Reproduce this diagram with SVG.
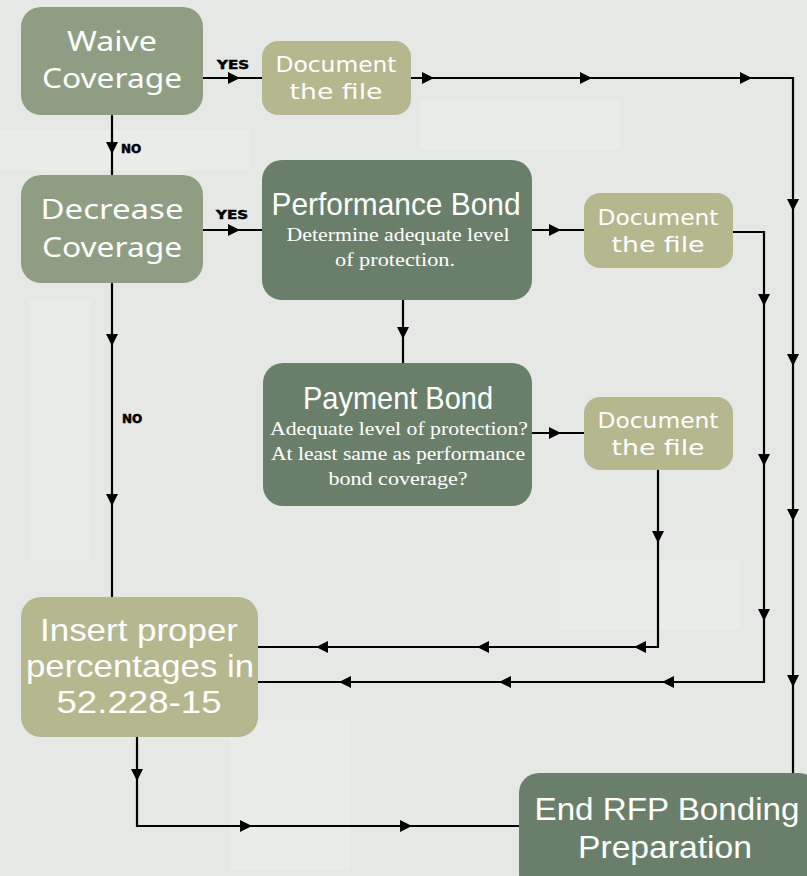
<svg xmlns="http://www.w3.org/2000/svg" width="807" height="876" viewBox="0 0 807 876">
<style>
.bg{fill:#e5e8e5}
.lt{fill:#8f9e82}
.tan{fill:#b5b78f}
.dk{fill:#6a7f69}
.ln{stroke:#000;stroke-width:2.2;fill:none}
.t{fill:#fff;text-anchor:middle}
.big{font-family:"Noto Sans","DejaVu Sans",sans-serif;font-size:28px}
.doc{font-family:"DejaVu Sans","Noto Sans",sans-serif;font-size:22px}
.cond{font-family:"Liberation Sans","Arial",sans-serif;font-size:32px}
.ser{font-family:"Liberation Serif",serif;font-size:19px}
.lab{font-family:"DejaVu Sans",sans-serif;font-weight:bold;font-size:12px;fill:#000;stroke:#000;stroke-width:0.5}
</style>
<rect class="bg" x="0" y="0" width="807" height="876"/>
<g opacity="0.3" fill="#f4f5f4">
<rect x="0" y="130" width="250" height="40"/>
<rect x="420" y="100" width="200" height="50"/>
<rect x="30" y="300" width="60" height="260"/>
<rect x="560" y="560" width="180" height="70"/>
<rect x="230" y="720" width="120" height="150"/>
</g>

<g id="connectors">
<path class="ln" d="M203,78 H262"/>
<path class="ln" d="M203,230 H262"/>
<path class="ln" d="M112,115 V175"/>
<path class="ln" d="M112,283 V597"/>
<path class="ln" d="M411,78 H793 V773"/>
<path class="ln" d="M532,230 H584"/>
<path class="ln" d="M403,300 V363"/>
<path class="ln" d="M532,433 H584"/>
<path class="ln" d="M733,232 H764 V682 H258"/>
<path class="ln" d="M658,470 V647 H258"/>
<path class="ln" d="M137,737 V826 H519"/>
<g fill="#000">
<path d="M228,72 L240,78 L228,84 z"/>
<path d="M228,224 L240,230 L228,236 z"/>
<path d="M106,142 L112,154 L118,142 z"/>
<path d="M106,334 L112,346 L118,334 z"/>
<path d="M106,494 L112,506 L118,494 z"/>
<path d="M422,72 L434,78 L422,84 z"/>
<path d="M580,72 L592,78 L580,84 z"/>
<path d="M740,72 L752,78 L740,84 z"/>
<path d="M787,199 L793,211 L799,199 z"/>
<path d="M787,354 L793,366 L799,354 z"/>
<path d="M787,509 L793,521 L799,509 z"/>
<path d="M787,675 L793,687 L799,675 z"/>
<path d="M549,224 L561,230 L549,236 z"/>
<path d="M397,327 L403,339 L409,327 z"/>
<path d="M549,427 L561,433 L549,439 z"/>
<path d="M758,294 L764,306 L770,294 z"/>
<path d="M758,454 L764,466 L770,454 z"/>
<path d="M758,609 L764,621 L770,609 z"/>
<path d="M674,676 L662,682 L674,688 z"/>
<path d="M511,676 L499,682 L511,688 z"/>
<path d="M351,676 L339,682 L351,688 z"/>
<path d="M652,531 L658,543 L664,531 z"/>
<path d="M646,641 L634,647 L646,653 z"/>
<path d="M489,641 L477,647 L489,653 z"/>
<path d="M328,641 L316,647 L328,653 z"/>
<path d="M131,769 L137,781 L143,769 z"/>
<path d="M240,820 L252,826 L240,832 z"/>
<path d="M400,820 L412,826 L400,832 z"/>
</g>
<text class="lab" x="217" y="69" textLength="32" lengthAdjust="spacingAndGlyphs">YES</text>
<text class="lab" x="216" y="219" textLength="32" lengthAdjust="spacingAndGlyphs">YES</text>
<text class="lab" x="121" y="153">NO</text>
<text class="lab" x="122" y="423">NO</text>
</g>

<g id="waive">
<rect class="lt" x="21" y="7" width="182" height="108" rx="20"/>
<text class="t big" x="112" y="51" textLength="90" lengthAdjust="spacingAndGlyphs">Waive</text>
<text class="t big" x="112" y="88" textLength="140" lengthAdjust="spacingAndGlyphs">Coverage</text>
</g>
<g id="doc1">
<rect class="tan" x="262" y="41" width="149" height="74" rx="16"/>
<text class="t doc" x="336" y="72" textLength="121" lengthAdjust="spacingAndGlyphs">Document</text>
<text class="t doc" x="336" y="99" textLength="93" lengthAdjust="spacingAndGlyphs">the file</text>
</g>
<g id="decrease">
<rect class="lt" x="21" y="175" width="182" height="108" rx="20"/>
<text class="t big" x="112" y="219" textLength="143" lengthAdjust="spacingAndGlyphs">Decrease</text>
<text class="t big" x="112" y="257" textLength="140" lengthAdjust="spacingAndGlyphs">Coverage</text>
</g>
<g id="performance">
<rect class="dk" x="262" y="160" width="270" height="140" rx="20"/>
<text class="t cond" x="396" y="215" font-size="31" textLength="249" lengthAdjust="spacingAndGlyphs">Performance Bond</text>
<text class="t ser" x="398" y="241" textLength="223" lengthAdjust="spacingAndGlyphs">Determine adequate level</text>
<text class="t ser" x="395" y="266" textLength="120" lengthAdjust="spacingAndGlyphs">of protection.</text>
</g>
<g id="doc2">
<rect class="tan" x="584" y="193" width="149" height="75" rx="16"/>
<text class="t doc" x="658" y="225" textLength="121" lengthAdjust="spacingAndGlyphs">Document</text>
<text class="t doc" x="658" y="252" textLength="93" lengthAdjust="spacingAndGlyphs">the file</text>
</g>
<g id="payment">
<rect class="dk" x="263" y="363" width="269" height="143" rx="20"/>
<text class="t cond" x="398" y="409" font-size="31" textLength="190" lengthAdjust="spacingAndGlyphs">Payment Bond</text>
<text class="t ser" x="399" y="435" textLength="258" lengthAdjust="spacingAndGlyphs">Adequate level of protection?</text>
<text class="t ser" x="398" y="460" textLength="254" lengthAdjust="spacingAndGlyphs">At least same as performance</text>
<text class="t ser" x="398" y="485" textLength="139" lengthAdjust="spacingAndGlyphs">bond coverage?</text>
</g>
<g id="doc3">
<rect class="tan" x="584" y="397" width="149" height="73" rx="16"/>
<text class="t doc" x="658" y="428" textLength="121" lengthAdjust="spacingAndGlyphs">Document</text>
<text class="t doc" x="658" y="455" textLength="93" lengthAdjust="spacingAndGlyphs">the file</text>
</g>
<g id="insert">
<rect class="tan" x="21" y="597" width="237" height="140" rx="20"/>
<text class="t cond" x="139" y="641" textLength="198" lengthAdjust="spacingAndGlyphs">Insert proper</text>
<text class="t cond" x="140" y="677" textLength="228" lengthAdjust="spacingAndGlyphs">percentages in</text>
<text class="t cond" x="139" y="713" textLength="165" lengthAdjust="spacingAndGlyphs">52.228-15</text>
</g>
<g id="end">
<rect class="dk" x="519" y="773" width="300" height="120" rx="20"/>
<text class="t cond" x="667" y="820" textLength="265" lengthAdjust="spacingAndGlyphs">End RFP Bonding</text>
<text class="t cond" x="665" y="858" textLength="174" lengthAdjust="spacingAndGlyphs">Preparation</text>
</g>
</svg>
